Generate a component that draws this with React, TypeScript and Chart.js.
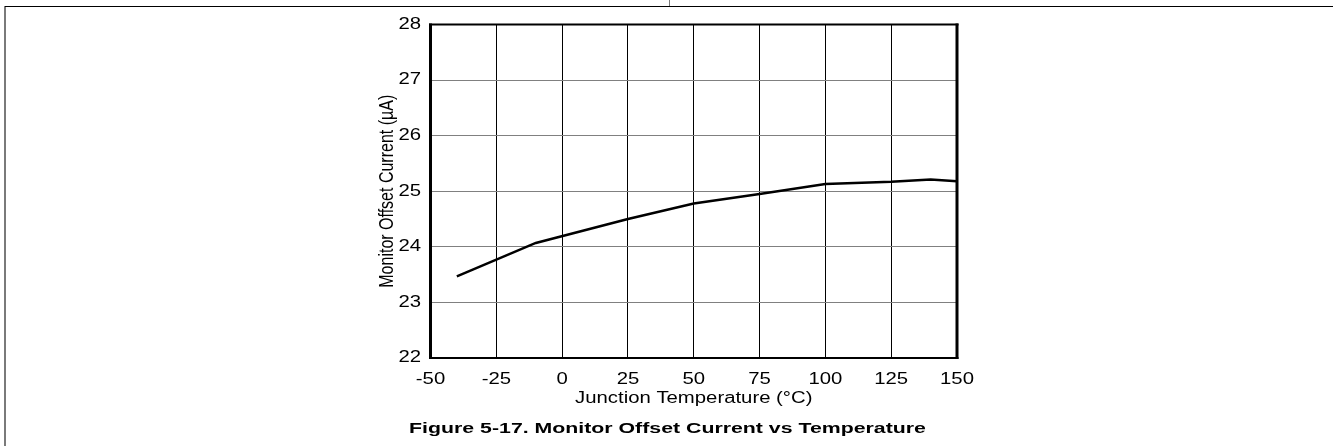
import React, { useEffect, useRef } from "react";
import { Chart, registerables } from "chart.js";

Chart.register(...registerables);

// ---- data ----
const temperatures = [-40, -10, 25, 50, 75, 100, 125, 140, 150];
const offsetCurrent = [23.47, 24.07, 24.5, 24.78, 24.95, 25.13, 25.17, 25.21, 25.18];
const xTickValues = [-50, -25, 0, 25, 50, 75, 100, 125, 150];
const yTickValues = [22, 23, 24, 25, 26, 27, 28];
const xTitle = "Junction Temperature (°C)";
const yTitle = "Monitor Offset Current (µA)";
const caption = "Figure 5-17. Monitor Offset Current vs Temperature";

const FONT = "'Liberation Sans', Arial, Helvetica, sans-serif";
const SX = 1.27; // horizontal text stretch seen in the reference
const SXB = 1.42; // stretch for the bold caption

const framePlugin = {
  id: "framePlugin",
  afterDatasetsDraw(chart: any) {
    const ctx = chart.ctx as CanvasRenderingContext2D;
    const { left, right, top, bottom } = chart.chartArea;
    ctx.save();
    ctx.strokeStyle = "#000";
    ctx.lineWidth = 3;
    ctx.beginPath();
    ctx.moveTo(left, top - 1);
    ctx.lineTo(left, bottom + 1);
    ctx.moveTo(right, top - 1);
    ctx.lineTo(right, bottom + 1);
    ctx.stroke();
    ctx.lineWidth = 2;
    ctx.beginPath();
    ctx.moveTo(left - 1.5, top);
    ctx.lineTo(right + 1.5, top);
    ctx.moveTo(left - 1.5, bottom);
    ctx.lineTo(right + 1.5, bottom);
    ctx.stroke();
    ctx.restore();
  },
  afterDraw(chart: any) {
    const ctx = chart.ctx as CanvasRenderingContext2D;
    ctx.save();
    ctx.fillStyle = "#7a7a7a";
    ctx.fillRect(4, 6, 2, chart.height - 6);
    ctx.fillRect(669, 0, 1, 6);
    ctx.fillStyle = "#000";
    ctx.fillRect(5, 6, chart.width - 5, 1);
    ctx.restore();
  },
};

export default function App() {
  const canvasRef = useRef<HTMLCanvasElement | null>(null);

  useEffect(() => {
    const canvas = canvasRef.current;
    if (!canvas) return;
    const ctx = canvas.getContext("2d") as any;
    if (!ctx.__stretched) {
      ctx.__stretched = true;
      const orig = ctx.fillText.bind(ctx);
      ctx.fillText = (text: string, x: number, y: number, maxWidth?: number) => {
        const m = ctx.getTransform();
        const rotated = Math.abs(m.b) > Math.abs(m.a);
        const s = String(ctx.font).indexOf("bold") >= 0 ? SXB : SX;
        ctx.save();
        ctx.translate(x, y);
        if (rotated) ctx.scale(1, s);
        else ctx.scale(s, 1);
        if (maxWidth !== undefined && maxWidth !== null) orig(text, 0, 0, maxWidth / s);
        else orig(text, 0, 0);
        ctx.restore();
      };
    }

    const chart = new Chart(canvas, {
      type: "line",
      data: {
        datasets: [
          {
            label: yTitle,
            data: temperatures.map((t, i) => ({ x: t, y: offsetCurrent[i] })),
            borderColor: "#000",
            borderWidth: 2.5,
            pointRadius: 0,
            tension: 0,
            fill: false,
          },
        ],
      },
      options: {
        animation: false,
        responsive: true,
        maintainAspectRatio: false,
        devicePixelRatio: 1,
        layout: {
          autoPadding: false,
          padding: { left: 378, right: 376, top: 24.5, bottom: 0 },
        },
        plugins: {
          legend: { display: false },
          tooltip: { enabled: false },
          title: {
            display: true,
            position: "bottom",
            text: caption,
            color: "#000",
            font: { family: FONT, size: 15, weight: "bold", lineHeight: 1.2 },
            padding: { top: 0, bottom: 8 },
          },
        },
        scales: {
          x: {
            type: "linear",
            min: -50,
            max: 150,
            afterBuildTicks: (s: any) => {
              s.ticks = xTickValues.map((v) => ({ value: v }));
            },
            afterFit: (s: any) => {
              s.height = 62;
            },
            grid: { color: "#000", lineWidth: 1, drawTicks: false },
            border: { display: false },
            ticks: {
              color: "#000",
              font: { family: FONT, size: 16, lineHeight: 1.2 },
              padding: 12,
              maxRotation: 0,
              autoSkip: false,
            },
            title: {
              display: true,
              text: xTitle,
              color: "#000",
              font: { family: FONT, size: 16, lineHeight: 1.2 },
              padding: { top: 0, bottom: 11.4 },
            },
          },
          y: {
            type: "linear",
            min: 22,
            max: 28,
            afterBuildTicks: (s: any) => {
              s.ticks = yTickValues.map((v) => ({ value: v }));
            },
            afterFit: (s: any) => {
              s.width = 52.5;
            },
            grid: { color: "#808080", lineWidth: 1, drawTicks: false },
            border: { display: false },
            ticks: {
              color: "#000",
              font: { family: FONT, size: 16, lineHeight: 1.2 },
              padding: 9.5,
              autoSkip: false,
            },
            title: {
              display: true,
              text: yTitle,
              color: "#000",
              font: { family: FONT, size: 16, lineHeight: 1 },
              padding: { top: 1, bottom: 0 },
            },
          },
        },
      },
      plugins: [framePlugin],
    } as any);

    return () => {
      chart.destroy();
    };
  }, []);

  return (
    <div
      style={{
        position: "absolute",
        left: 0,
        top: 0,
        width: 1333,
        height: 446,
        background: "#fff",
      }}
    >
      <canvas ref={canvasRef} style={{ display: "block" }} />
    </div>
  );
}
